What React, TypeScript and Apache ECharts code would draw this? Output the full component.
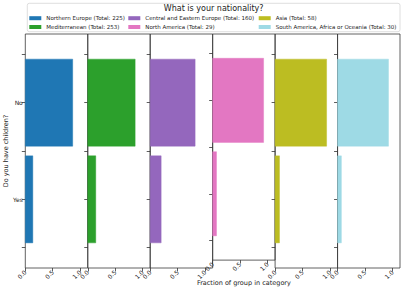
import React, { useEffect, useRef } from "react";
import * as echarts from "echarts";

const regions = [
  "Northern Europe",
  "Mediterranean",
  "Central and Eastern Europe",
  "North America",
  "Asia",
  "South America, Africa or Oceania",
];
const totals = [225, 253, 160, 29, 58, 30];
const answers = ["No", "Yes"];
const fractionNo = [0.865, 0.865, 0.82, 0.93, 0.94, 0.93];
const fractionYes = [0.137, 0.146, 0.2, 0.07, 0.08, 0.07];
const xTickValues = [0, 0.5, 1.0];
const colors = ["#1f77b4", "#2ca02c", "#9467bd", "#e377c2", "#bcbd22", "#9edae5"];

const FONT = "DejaVu Sans";

export default function App() {
  const ref = useRef<HTMLDivElement>(null);
  useEffect(() => {
    if (!ref.current) return;
    const chart = echarts.init(ref.current, undefined, { renderer: "svg" });
    const n = regions.length;
    const plotLeft = 25.3;
    const plotRight = 400;
    const pw = (plotRight - plotLeft) / n;
    const top = 34;
    const bottom = 291 - 268;

    const grids: any[] = [];
    const xAxes: any[] = [];
    const yAxes: any[] = [];
    const series: any[] = [];
    for (let i = 0; i < n; i++) {
      grids.push({
        left: plotLeft + i * pw,
        width: pw,
        top,
        bottom,
        show: true,
        borderColor: "#3a3a3a",
        borderWidth: 0.8,
        backgroundColor: "transparent",
      });
      xAxes.push({
        type: "value",
        gridIndex: i,
        position: "bottom",
        min: 0,
        max: 1.14,
        splitLine: { show: false },
        axisLine: { show: false, onZero: false },
        axisTick: { show: true, length: 3.5, customValues: xTickValues, lineStyle: { color: "#333", width: 0.8 } },
        axisLabel: {
          customValues: xTickValues,
          rotate: 45,
          fontSize: 6,
          fontFamily: FONT,
          color: "#222",
          margin: 3,
          formatter: (v: number) => v.toFixed(1),
        },
        name: i === 3 ? "Fraction of group in category" : "",
        nameLocation: "middle",
        nameGap: 17,
        nameTextStyle: { fontSize: 6.5, fontFamily: FONT, color: "#222" },
      });
      yAxes.push({
        type: "value",
        gridIndex: i,
        position: "left",
        inverse: true,
        min: -0.71,
        max: 1.71,
        splitLine: { show: false },
        axisLine: { show: false, onZero: false },
        axisTick: { show: true, length: 3.5, customValues: [-0.5, 0, 0.5, 1, 1.5], lineStyle: { color: "#333", width: 0.8 } },
        axisLabel: {
          show: i === 0,
          customValues: [0, 1],
          fontSize: 6,
          fontFamily: FONT,
          color: "#222",
          margin: 2.5,
          formatter: (v: number) => answers[Math.round(v)] ?? "",
        },
        name: i === 0 ? "Do you have children?" : "",
        nameLocation: "middle",
        nameGap: 14,
        nameTextStyle: { fontSize: 6.5, fontFamily: FONT, color: "#222" },
      });
      const color = colors[i];
      series.push({
        type: "custom",
        name: `${regions[i]} (Total: ${totals[i]})`,
        xAxisIndex: i,
        yAxisIndex: i,
        itemStyle: { color },
        encode: { x: 0, y: 1 },
        data: [
          [fractionNo[i], 0],
          [fractionYes[i], 1],
        ],
        renderItem: (params: any, api: any) => {
          const v = api.value(0);
          const idx = api.value(1);
          const s = api.coord([0, idx]);
          const e = api.coord([v, idx]);
          const h = api.size([0, 0.9])[1];
          return {
            type: "rect",
            shape: { x: s[0], y: s[1] - h / 2, width: e[0] - s[0], height: h },
            style: { fill: color, stroke: color, lineWidth: 0.8, strokeOpacity: 0.55 },
          };
        },
      });
    }

    const legendCols = [
      { left: 29.3, idx: [0, 1] },
      { left: 128.3, idx: [2, 3] },
      { left: 258.7, idx: [4, 5] },
    ];
    const legends = legendCols.map((c) => ({
      left: c.left,
      top: 15.2,
      orient: "vertical",
      padding: 0,
      icon: "rect",
      itemWidth: 12,
      itemHeight: 4,
      itemGap: 2.8,
      selectedMode: false,
      data: c.idx.map((k) => `${regions[k]} (Total: ${totals[k]})`),
      textStyle: { fontSize: 5.5, fontFamily: FONT, color: "#222", lineHeight: 6, padding: [0, 0, 0, 0] },
    }));

    chart.setOption({
      animation: false,
      backgroundColor: "#fff",
      grid: grids,
      xAxis: xAxes,
      yAxis: yAxes,
      series,
      legend: legends,
      graphic: [
        {
          type: "rect",
          z: -1,
          shape: { x: 27.3, y: 3.3, width: 372.7, height: 28.4, r: 2 },
          style: { fill: "#fff", stroke: "#d6d6d6", lineWidth: 0.8 },
        },
        {
          type: "text",
          x: 213.7,
          y: 8.8,
          style: {
            text: "What is your nationality?",
            fontSize: 8,
            fontFamily: FONT,
            fill: "#222",
            align: "center",
            verticalAlign: "middle",
          },
        },
      ],
    });
    return () => chart.dispose();
  }, []);
  return (
    <div
      ref={ref}
      style={{ position: "fixed", left: 0, top: 0, width: 407, height: 291 }}
    />
  );
}
